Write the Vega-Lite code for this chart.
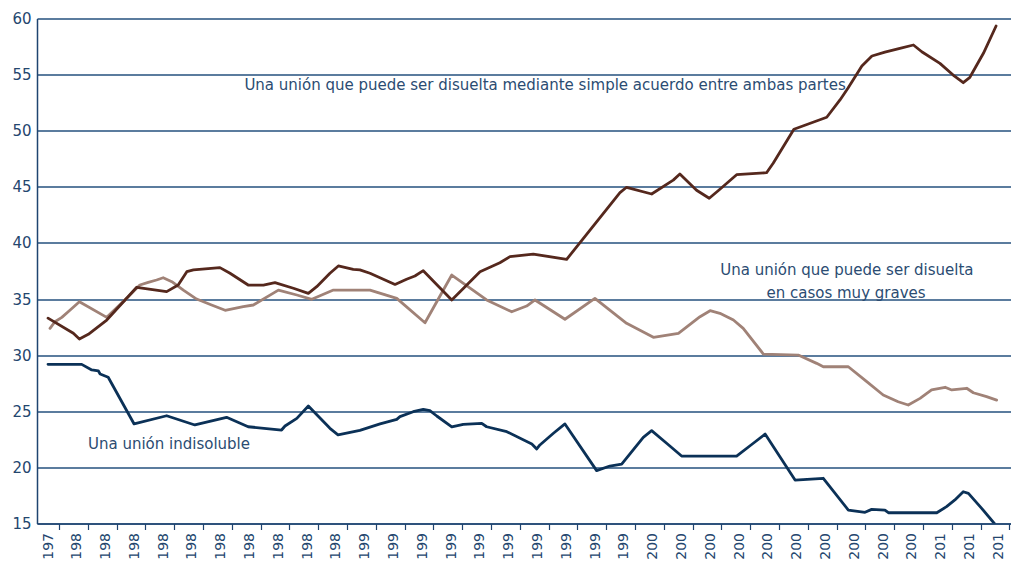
{
  "$schema": "https://vega.github.io/schema/vega-lite/v6.json",
  "autosize": {"type": "none"},
  "padding": {"left": 37, "top": 18.5, "right": 0, "bottom": 41.5},
  "width": 974,
  "height": 505,
  "background": "white",
  "config": {
    "view": {"stroke": null},
    "font": "DejaVu Sans"
  },
  "encoding": {
    "x": {
      "field": "t",
      "type": "quantitative",
      "scale": {"domain": [1978.618, 2012.438], "nice": false, "zero": false},
      "axis": {
        "title": null,
        "values": [1979,1980,1981,1982,1983,1984,1985,1986,1987,1988,1989,1990,1991,1992,1993,1994,1995,1996,1997,1998,1999,2000,2001,2002,2003,2004,2005,2006,2007,2008,2009,2010,2011,2012],
        "format": "d",
        "labelExpr": "substring(datum.label, 0, 3)",
        "labelAngle": 270,
        "labelFont": "DejaVu Sans",
        "labelFontSize": 14,
        "labelColor": "#24466e",
        "labelPadding": 3,
        "labelOverlap": false,
        "labelFlush": false,
        "labelBound": false,
        "tickOffset": 11,
        "labelOffset": -11,
        "tickSize": 6,
        "tickColor": "#1f4470",
        "tickWidth": 1.2,
        "domainColor": "#1f4470",
        "domainWidth": 1.5,
        "grid": false
      }
    },
    "y": {
      "field": "v",
      "type": "quantitative",
      "scale": {"domain": [15, 60], "nice": false, "zero": false},
      "axis": {
        "title": null,
        "values": [15,20,25,30,35,40,45,50,55,60],
        "labelFont": "DejaVu Sans",
        "labelFontSize": 15,
        "labelColor": "#24466e",
        "labelPadding": 6,
        "ticks": false,
        "domainColor": "#1f4470",
        "domainWidth": 1.5,
        "grid": true,
        "gridColor": "#24507e",
        "gridWidth": 1.3,
        "gridOpacity": 1
      }
    }
  },
  "layer": [
    {
      "data": {
        "values": [
          {"s": "blue", "t": 1979.0, "v": 29.18},
          {"s": "blue", "t": 1980.17, "v": 29.18},
          {"s": "blue", "t": 1980.52, "v": 28.68},
          {"s": "blue", "t": 1980.75, "v": 28.59},
          {"s": "blue", "t": 1980.81, "v": 28.32},
          {"s": "blue", "t": 1981.09, "v": 28.03},
          {"s": "blue", "t": 1981.99, "v": 23.87},
          {"s": "blue", "t": 1983.12, "v": 24.6},
          {"s": "blue", "t": 1984.1, "v": 23.78},
          {"s": "blue", "t": 1985.2, "v": 24.46},
          {"s": "blue", "t": 1985.95, "v": 23.62},
          {"s": "blue", "t": 1987.11, "v": 23.33},
          {"s": "blue", "t": 1987.23, "v": 23.69},
          {"s": "blue", "t": 1987.64, "v": 24.37},
          {"s": "blue", "t": 1988.04, "v": 25.47},
          {"s": "blue", "t": 1988.79, "v": 23.48},
          {"s": "blue", "t": 1989.07, "v": 22.9},
          {"s": "blue", "t": 1989.83, "v": 23.3},
          {"s": "blue", "t": 1990.53, "v": 23.87},
          {"s": "blue", "t": 1991.11, "v": 24.28},
          {"s": "blue", "t": 1991.22, "v": 24.52},
          {"s": "blue", "t": 1991.68, "v": 24.96},
          {"s": "blue", "t": 1992.03, "v": 25.17},
          {"s": "blue", "t": 1992.26, "v": 25.05},
          {"s": "blue", "t": 1992.5, "v": 24.58},
          {"s": "blue", "t": 1993.02, "v": 23.62},
          {"s": "blue", "t": 1993.42, "v": 23.84},
          {"s": "blue", "t": 1994.06, "v": 23.93},
          {"s": "blue", "t": 1994.23, "v": 23.62},
          {"s": "blue", "t": 1994.93, "v": 23.18},
          {"s": "blue", "t": 1995.8, "v": 22.08},
          {"s": "blue", "t": 1995.97, "v": 21.64},
          {"s": "blue", "t": 1996.08, "v": 22.0},
          {"s": "blue", "t": 1996.55, "v": 23.04},
          {"s": "blue", "t": 1996.95, "v": 23.87},
          {"s": "blue", "t": 1998.05, "v": 19.71},
          {"s": "blue", "t": 1998.51, "v": 20.12},
          {"s": "blue", "t": 1998.92, "v": 20.3},
          {"s": "blue", "t": 1999.67, "v": 22.68},
          {"s": "blue", "t": 1999.96, "v": 23.27},
          {"s": "blue", "t": 2000.48, "v": 22.15},
          {"s": "blue", "t": 2001.0, "v": 21.01},
          {"s": "blue", "t": 2002.91, "v": 21.01},
          {"s": "blue", "t": 2003.49, "v": 22.15},
          {"s": "blue", "t": 2003.9, "v": 22.97},
          {"s": "blue", "t": 2004.94, "v": 18.87},
          {"s": "blue", "t": 2005.92, "v": 19.03},
          {"s": "blue", "t": 2006.79, "v": 16.2},
          {"s": "blue", "t": 2007.37, "v": 16.0},
          {"s": "blue", "t": 2007.6, "v": 16.26},
          {"s": "blue", "t": 2008.06, "v": 16.2},
          {"s": "blue", "t": 2008.18, "v": 15.96},
          {"s": "blue", "t": 2008.58, "v": 15.96},
          {"s": "blue", "t": 2009.86, "v": 15.96},
          {"s": "blue", "t": 2010.2, "v": 16.5},
          {"s": "blue", "t": 2010.49, "v": 17.1},
          {"s": "blue", "t": 2010.78, "v": 17.83},
          {"s": "blue", "t": 2010.96, "v": 17.69},
          {"s": "blue", "t": 2011.42, "v": 16.35},
          {"s": "blue", "t": 2011.86, "v": 15.0},

          {"s": "light", "t": 1979.07, "v": 32.39},
          {"s": "light", "t": 1979.24, "v": 32.98},
          {"s": "light", "t": 1979.48, "v": 33.37},
          {"s": "light", "t": 1979.76, "v": 34.0},
          {"s": "light", "t": 1980.09, "v": 34.76},
          {"s": "light", "t": 1981.04, "v": 33.37},
          {"s": "light", "t": 1981.73, "v": 35.06},
          {"s": "light", "t": 1982.19, "v": 36.25},
          {"s": "light", "t": 1982.48, "v": 36.49},
          {"s": "light", "t": 1982.77, "v": 36.7},
          {"s": "light", "t": 1983.0, "v": 36.9},
          {"s": "light", "t": 1983.3, "v": 36.55},
          {"s": "light", "t": 1983.7, "v": 35.8},
          {"s": "light", "t": 1984.16, "v": 35.0},
          {"s": "light", "t": 1984.68, "v": 34.47},
          {"s": "light", "t": 1985.15, "v": 34.0},
          {"s": "light", "t": 1985.78, "v": 34.32},
          {"s": "light", "t": 1986.13, "v": 34.47},
          {"s": "light", "t": 1987.0, "v": 35.8},
          {"s": "light", "t": 1987.64, "v": 35.36},
          {"s": "light", "t": 1988.16, "v": 34.98},
          {"s": "light", "t": 1988.91, "v": 35.8},
          {"s": "light", "t": 1990.18, "v": 35.8},
          {"s": "light", "t": 1991.11, "v": 35.06},
          {"s": "light", "t": 1992.09, "v": 32.89},
          {"s": "light", "t": 1993.02, "v": 37.14},
          {"s": "light", "t": 1994.23, "v": 34.92},
          {"s": "light", "t": 1995.1, "v": 33.87},
          {"s": "light", "t": 1995.62, "v": 34.38},
          {"s": "light", "t": 1995.91, "v": 34.92},
          {"s": "light", "t": 1996.95, "v": 33.2},
          {"s": "light", "t": 1997.99, "v": 35.06},
          {"s": "light", "t": 1999.09, "v": 32.84},
          {"s": "light", "t": 2000.02, "v": 31.59},
          {"s": "light", "t": 2000.89, "v": 31.95},
          {"s": "light", "t": 2001.64, "v": 33.43},
          {"s": "light", "t": 2001.99, "v": 33.96},
          {"s": "light", "t": 2002.33, "v": 33.73},
          {"s": "light", "t": 2002.8, "v": 33.13},
          {"s": "light", "t": 2003.14, "v": 32.39},
          {"s": "light", "t": 2003.84, "v": 30.1},
          {"s": "light", "t": 2005.05, "v": 30.01},
          {"s": "light", "t": 2005.69, "v": 29.27},
          {"s": "light", "t": 2005.92, "v": 28.97},
          {"s": "light", "t": 2006.79, "v": 28.97},
          {"s": "light", "t": 2007.43, "v": 27.64},
          {"s": "light", "t": 2008.0, "v": 26.45},
          {"s": "light", "t": 2008.52, "v": 25.85},
          {"s": "light", "t": 2008.87, "v": 25.56},
          {"s": "light", "t": 2009.28, "v": 26.15},
          {"s": "light", "t": 2009.68, "v": 26.9},
          {"s": "light", "t": 2010.15, "v": 27.14},
          {"s": "light", "t": 2010.38, "v": 26.9},
          {"s": "light", "t": 2010.9, "v": 27.05},
          {"s": "light", "t": 2011.13, "v": 26.65},
          {"s": "light", "t": 2011.59, "v": 26.3},
          {"s": "light", "t": 2011.94, "v": 26.0},

          {"s": "dark", "t": 1979.0, "v": 33.3},
          {"s": "dark", "t": 1979.88, "v": 31.95},
          {"s": "dark", "t": 1980.09, "v": 31.44},
          {"s": "dark", "t": 1980.4, "v": 31.86},
          {"s": "dark", "t": 1981.04, "v": 33.13},
          {"s": "dark", "t": 1982.08, "v": 36.05},
          {"s": "dark", "t": 1983.12, "v": 35.66},
          {"s": "dark", "t": 1983.52, "v": 36.25},
          {"s": "dark", "t": 1983.82, "v": 37.44},
          {"s": "dark", "t": 1984.05, "v": 37.6},
          {"s": "dark", "t": 1984.97, "v": 37.8},
          {"s": "dark", "t": 1985.32, "v": 37.3},
          {"s": "dark", "t": 1985.95, "v": 36.25},
          {"s": "dark", "t": 1986.48, "v": 36.25},
          {"s": "dark", "t": 1986.88, "v": 36.46},
          {"s": "dark", "t": 1987.52, "v": 35.96},
          {"s": "dark", "t": 1988.04, "v": 35.5},
          {"s": "dark", "t": 1988.33, "v": 36.1},
          {"s": "dark", "t": 1988.79, "v": 37.3},
          {"s": "dark", "t": 1989.08, "v": 37.95},
          {"s": "dark", "t": 1989.6, "v": 37.65},
          {"s": "dark", "t": 1989.83, "v": 37.6},
          {"s": "dark", "t": 1990.18, "v": 37.3},
          {"s": "dark", "t": 1991.05, "v": 36.3},
          {"s": "dark", "t": 1991.45, "v": 36.76},
          {"s": "dark", "t": 1991.74, "v": 37.05},
          {"s": "dark", "t": 1992.03, "v": 37.53},
          {"s": "dark", "t": 1993.02, "v": 34.92},
          {"s": "dark", "t": 1994.0, "v": 37.44},
          {"s": "dark", "t": 1994.69, "v": 38.24},
          {"s": "dark", "t": 1995.04, "v": 38.78},
          {"s": "dark", "t": 1995.85, "v": 39.01},
          {"s": "dark", "t": 1997.01, "v": 38.54},
          {"s": "dark", "t": 1997.82, "v": 41.15},
          {"s": "dark", "t": 1998.86, "v": 44.48},
          {"s": "dark", "t": 1999.09, "v": 44.96},
          {"s": "dark", "t": 1999.96, "v": 44.36},
          {"s": "dark", "t": 2000.71, "v": 45.6},
          {"s": "dark", "t": 2000.94, "v": 46.14},
          {"s": "dark", "t": 2001.52, "v": 44.7},
          {"s": "dark", "t": 2001.96, "v": 43.98},
          {"s": "dark", "t": 2002.33, "v": 44.78},
          {"s": "dark", "t": 2002.91, "v": 46.08},
          {"s": "dark", "t": 2003.95, "v": 46.26},
          {"s": "dark", "t": 2004.18, "v": 47.1},
          {"s": "dark", "t": 2004.9, "v": 50.13},
          {"s": "dark", "t": 2006.04, "v": 51.2},
          {"s": "dark", "t": 2006.5, "v": 52.74},
          {"s": "dark", "t": 2006.78, "v": 53.8},
          {"s": "dark", "t": 2007.26, "v": 55.77},
          {"s": "dark", "t": 2007.61, "v": 56.66},
          {"s": "dark", "t": 2008.06, "v": 57.0},
          {"s": "dark", "t": 2008.58, "v": 57.34},
          {"s": "dark", "t": 2009.05, "v": 57.64},
          {"s": "dark", "t": 2009.34, "v": 57.04},
          {"s": "dark", "t": 2009.97, "v": 56.0},
          {"s": "dark", "t": 2010.43, "v": 54.96},
          {"s": "dark", "t": 2010.78, "v": 54.28},
          {"s": "dark", "t": 2011.01, "v": 54.76},
          {"s": "dark", "t": 2011.48, "v": 56.9},
          {"s": "dark", "t": 2011.92, "v": 59.33}
        ]
      },
      "mark": {"type": "line", "strokeWidth": 2.8, "strokeJoin": "round", "strokeCap": "round", "clip": true},
      "encoding": {
        "color": {
          "field": "s",
          "type": "nominal",
          "scale": {"domain": ["blue", "light", "dark"], "range": ["#0b3157", "#a08277", "#55281d"]},
          "legend": null
        },
        "order": {"field": "t", "type": "quantitative"}
      }
    },
    {
      "data": {
        "values": [
          {"label": "Una unión que puede ser disuelta mediante simple acuerdo entre ambas partes", "t": 1996.26, "v": 54.07},
          {"label": "Una unión que puede ser disuelta", "t": 2006.74, "v": 37.59},
          {"label": "en casos muy graves", "t": 2006.71, "v": 35.54},
          {"label": "Una unión indisoluble", "t": 1983.2, "v": 22.08}
        ]
      },
      "mark": {"type": "text", "font": "DejaVu Sans", "fontSize": 15, "color": "#2b4c72", "align": "center", "baseline": "middle"},
      "encoding": {
        "text": {"field": "label", "type": "nominal"}
      }
    }
  ]
}
